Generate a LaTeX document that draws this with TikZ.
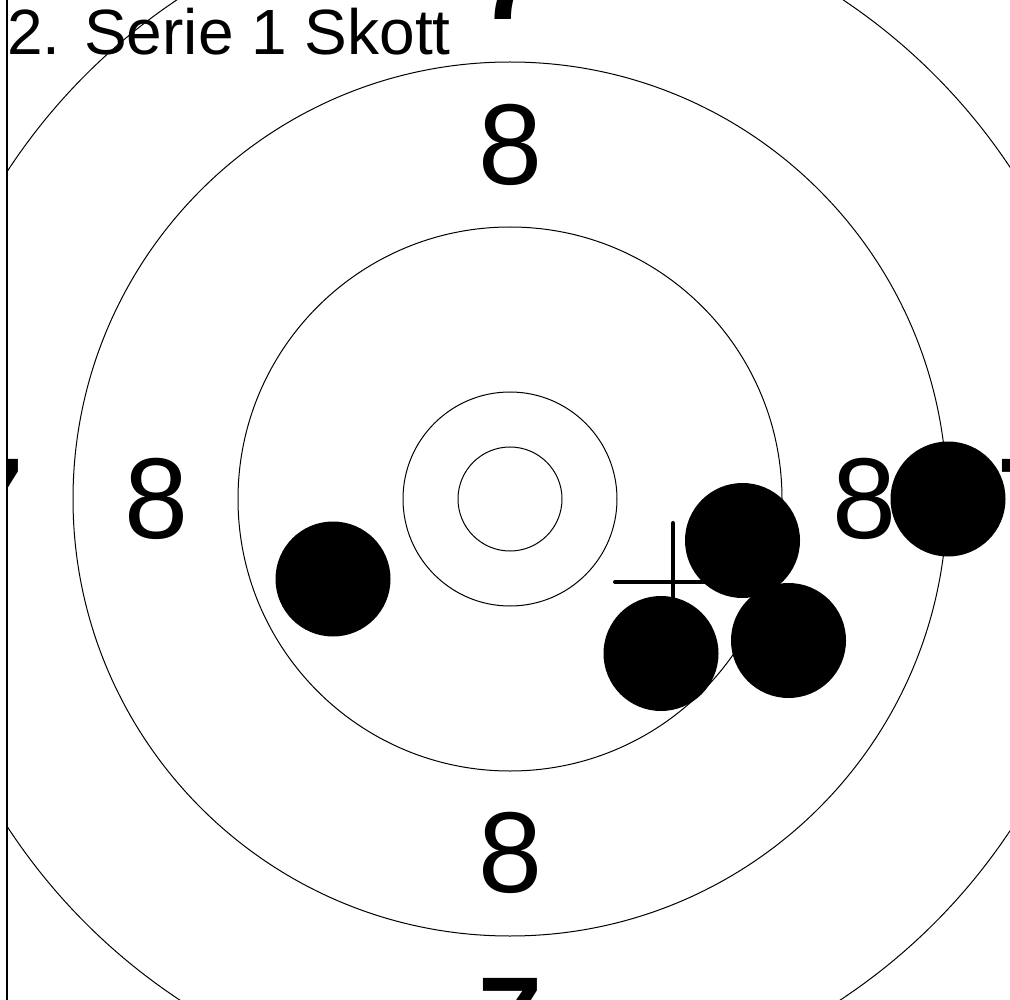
\documentclass[tikz,border=0pt]{standalone}
\usepackage{fontspec}
\setmainfont{Liberation Sans}
\begin{document}
\begin{tikzpicture}[x=1pt,y=-1pt,
  ring/.style={draw=black, line width=1pt, circle, inner sep=0pt, minimum size=#1},
  shot/.style={circle, fill=black, inner sep=0pt, minimum size=115pt},
  eightlbl/.style={inner sep=0pt, font=\fontsize{115}{115}\selectfont},
  sevenlbl/.style={inner sep=0pt, font=\fontsize{115}{115}\selectfont\bfseries},
  titlelbl/.style={inner sep=0pt, anchor=base west, font=\fontsize{64}{64}\selectfont},
  crossline/.style={line width=4pt, line cap=round},
  borderline/.style={line width=2pt}]
\useasboundingbox (0,0) rectangle (1010,1000);
\fill[white] (0,0) rectangle (1010,1000);
\coordinate (c) at (510,499);
\begin{scope}
\clip (8,0) rectangle (1010,1000);
% rings
\node[ring=1200pt] (r7) at (c) {};
\node[ring=874pt] (r8) at (c) {};
\node[ring=544pt] (r9) at (c) {};
\node[ring=214pt] (r10) at (c) {};
\node[ring=104pt] (rin) at (c) {};
% ring numbers
\node[eightlbl] (e8t) at (510,145) {8};
\node[eightlbl] (e8b) at (510,853) {8};
\node[eightlbl] (e8l) at (156,499) {8};
\node[eightlbl] (e8r) at (864,499) {8};
\node[sevenlbl] (s7t) at (510,-20) {7};
\node[sevenlbl] (s7b) at (510,1018) {7};
\node[sevenlbl] (s7l) at (-9,499) {7};
\node[sevenlbl] (s7r) at (1029,499) {7};
% cross (mean point of impact)
\coordinate (xl) at (615,582);
\coordinate (xr) at (731,582);
\coordinate (xt) at (673,523);
\coordinate (xb) at (673,641);
\draw[crossline] (xl) -- (xr);
\draw[crossline] (xt) -- (xb);
% shots
\node[shot] (h1) at (333,579) {};
\node[shot] (h2) at (742.5,540.5) {};
\node[shot] (h3) at (788.5,640.5) {};
\node[shot] (h4) at (661,653.5) {};
\node[shot] (h5) at (948,499) {};
% title
\node[titlelbl] (title) at (7,55) {2. Serie 1 Skott};
\end{scope}
\draw[borderline] (7,0) -- (7,1000);
\end{tikzpicture}
\end{document}
